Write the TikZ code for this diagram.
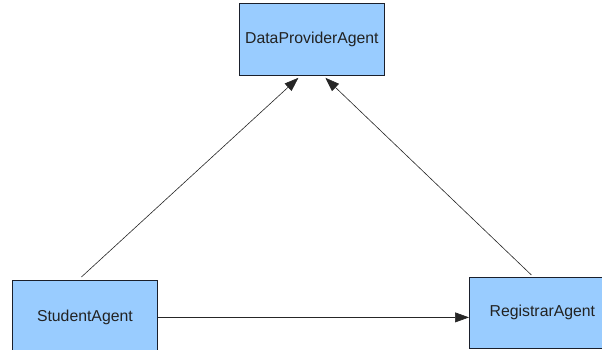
\documentclass[tikz,border=0pt]{standalone}
\usepackage{fontspec}
\setmainfont{Liberation Sans}
\usetikzlibrary{arrows.meta}
\definecolor{agentfill}{HTML}{99CCFF}
\definecolor{agentline}{HTML}{1A1F2B}
\definecolor{agenttext}{HTML}{222222}
\begin{document}
\begin{tikzpicture}[x=1pt,y=-1pt,
  agent/.style={draw=agentline,fill=agentfill,line width=0.8pt,
    text=agenttext,font=\fontsize{15.8}{18}\selectfont,inner sep=0pt,anchor=north west},
  link/.style={draw=black!85,line width=0.6pt,
    -{Triangle[length=14pt,width=10pt]}}]
  \useasboundingbox (0,0) rectangle (602,350);
  % the three agents
  \node[agent,minimum width=145pt,minimum height=72pt] (dp) at (239,3) {DataProviderAgent};
  \node[agent,minimum width=145pt,minimum height=74pt] (stu) at (12,280) {StudentAgent};
  \node[agent,minimum width=138pt,minimum height=71pt] (reg) at (469,277) {\hspace*{8pt}RegistrarAgent};
  % dependencies
  \draw[link] ([xshift=-3.5pt,yshift=3pt]stu.north) -- ([xshift=-13.5pt,yshift=-2pt]dp.south);
  \draw[link] ([xshift=-7pt,yshift=2pt]reg.north) -- ([xshift=13.5pt,yshift=-2pt]dp.south);
  \draw[link] (stu.east) -- (stu.east -| reg.west);
\end{tikzpicture}
\end{document}
